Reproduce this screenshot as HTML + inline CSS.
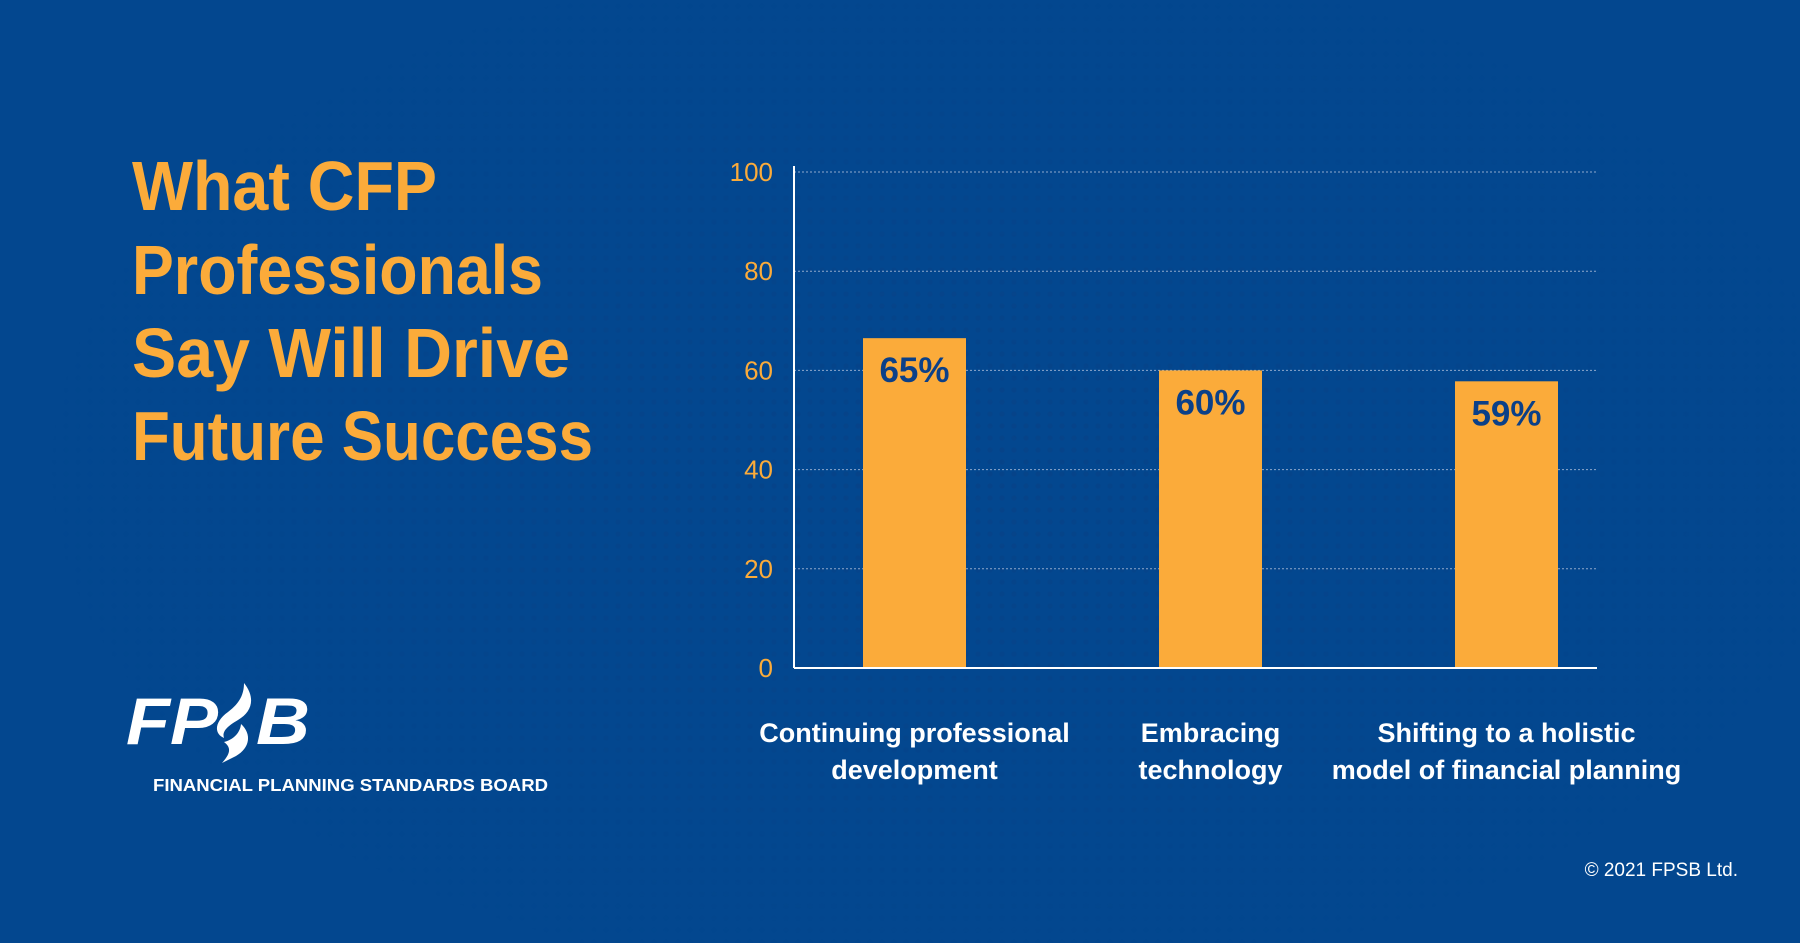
<!DOCTYPE html>
<html><head><meta charset="utf-8"><style>
html,body{margin:0;padding:0;background:#03478f;}
svg{display:block;font-family:"Liberation Sans",sans-serif;}
</style></head><body>
<svg width="1800" height="943" viewBox="0 0 1800 943">
<defs>
<pattern id="dots" width="12" height="12" patternUnits="userSpaceOnUse"><circle cx="6" cy="6" r="2.6" fill="#0a3f82" opacity="0.55"/></pattern>
<radialGradient id="fade" cx="0.5" cy="0.5" r="0.5"><stop offset="0" stop-color="#fff" stop-opacity="0.9"/><stop offset="1" stop-color="#fff" stop-opacity="0"/></radialGradient>
<mask id="m"><ellipse cx="950" cy="470" rx="900" ry="520" fill="url(#fade)"/></mask>
</defs>
<rect width="1800" height="943" fill="#03478f"/>
<rect width="1800" height="943" fill="url(#dots)" mask="url(#m)"/>
<g fill="#fbab3a" font-weight="bold" font-size="70">
<text x="132" y="210" textLength="305" lengthAdjust="spacingAndGlyphs">What CFP</text>
<text x="132" y="294" textLength="411" lengthAdjust="spacingAndGlyphs">Professionals</text>
<text x="132" y="377" textLength="438" lengthAdjust="spacingAndGlyphs">Say Will Drive</text>
<text x="132" y="460" textLength="461" lengthAdjust="spacingAndGlyphs">Future Success</text>
</g>
<g id="chart"></g>
<g fill="#fff">
<text x="126" y="744" font-size="66" font-weight="bold" font-style="italic" textLength="92" lengthAdjust="spacingAndGlyphs">FP</text>
<text x="256" y="744" font-size="66" font-weight="bold" font-style="italic" textLength="54" lengthAdjust="spacingAndGlyphs">B</text>
<path d="M244 683 C256 698 252 712 238 720 C226 727 222 732 224 738 C214 734 214 722 228 712 C240 703 244 694 244 683 Z"/>
<path d="M241 724 C252 734 250 748 236 756 L222 763 C230 754 232 748 224 742 C232 740 240 734 241 724 Z"/>
<text x="153" y="791" font-size="17.5" font-weight="bold" textLength="395" lengthAdjust="spacingAndGlyphs">FINANCIAL PLANNING STANDARDS BOARD</text>
</g>
<text x="1738" y="876" text-anchor="end" fill="#fff" font-size="19">© 2021 FPSB Ltd.</text>
</svg>
<script>
const categories=[["Continuing professional","development"],["Embracing","technology"],["Shifting to a holistic","model of financial planning"]];
const values=[66.5,60,57.8];
const valueLabels=["65%","60%","59%"];
const ticks=[0,20,40,60,80,100];
const NS="http://www.w3.org/2000/svg";
const g=document.getElementById('chart');
const x0=794,x1=1597,yTop=172,yBot=668;
const y=v=>yBot-(v/100)*(yBot-yTop);
const centers=[914.5,1210.5,1506.5];
const bw=103;
function mk(t,a){const e=document.createElementNS(NS,t);for(const k in a)e.setAttribute(k,a[k]);g.appendChild(e);return e;}
ticks.forEach(t=>{
  if(t>0){const l=mk('line',{x1:x0,x2:x1,y1:y(t),y2:y(t),stroke:'#8fa8cc','stroke-width':1,'stroke-dasharray':'2 2'});
  
  }
  const tx=mk('text',{x:773,y:y(t)+9,'text-anchor':'end',fill:'#fbab3a','font-size':26});
  tx.textContent=t;
  
  
});
values.forEach((v,i)=>{
  const r=mk('rect',{x:centers[i]-bw/2,y:y(v),width:bw,height:yBot-y(v),fill:'#fbab3a'});
  
  
  const t=mk('text',{x:centers[i],y:y(v)+44,'text-anchor':'middle',fill:'#0b4088','font-size':35,'font-weight':'bold'});
  t.textContent=valueLabels[i];
  
  
  categories[i].forEach((ln,j)=>{
    const c=mk('text',{x:centers[i],y:742+j*37,'text-anchor':'middle',fill:'#fff','font-size':27,'font-weight':'bold'});
    c.textContent=ln;
    
    
  });
});
const ya=mk('line',{x1:x0,x2:x0,y1:yTop-6,y2:yBot,stroke:'#fff','stroke-width':2});


const xa=mk('line',{x1:x0,x2:x1,y1:yBot,y2:yBot,stroke:'#fff','stroke-width':2});


</script>
</body></html>
